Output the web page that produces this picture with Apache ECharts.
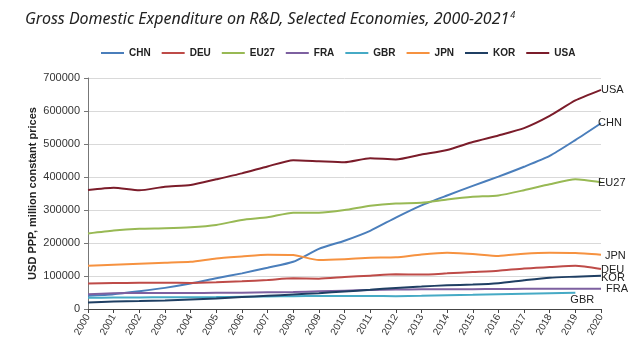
<!DOCTYPE html>
<html>
<head>
<meta charset="utf-8">
<script src="https://cdn.jsdelivr.net/npm/echarts@6/dist/echarts.min.js"></script>
<style>
html,body{margin:0;padding:0;background:#fff;}
#chart{width:637px;height:354px;}
</style>
</head>
<body>
<div id="chart"></div>
<script>
const years = ['2000','2001','2002','2003','2004','2005','2006','2007','2008','2009','2010',
    '2011','2012','2013','2014','2015','2016','2017','2018','2019','2020'];

const chn = [40000,45000,54000,64000,77000,93000,108000,125000,143000,182000,207000,
    237000,277000,314000,344000,373000,401000,431000,464000,512000,563000];
const deu = [77000,78500,79500,79500,79000,81000,84000,88000,93000,92000,97000,
    101000,105000,104500,108000,112000,116000,123000,127000,131000,121000];
const eu27 = [229000,238000,243000,244500,247500,254500,270000,278000,292000,292000,300000,
    313000,320000,322000,332000,340000,344000,360000,378000,393000,384000];
const fra = [45000,47500,48500,48500,48500,49000,49500,50500,51500,53500,55500,
    57500,59000,59500,59700,60000,60500,61000,61300,61500,61500];
const gbr = [34000,34500,35000,35500,35500,36000,37000,38000,39000,39500,39500,
    39500,39000,40000,41500,43000,45000,46500,48000,49400];
const jpn = [131000,134000,137000,140000,143000,153000,159000,164500,163600,148500,151000,
    155500,156500,165500,170600,166600,160600,167600,170600,169700,164500];
const kor = [20000,22500,24000,26000,29000,32000,36000,40000,44000,48000,53000,
    58000,64000,68000,72000,74000,78000,87000,95000,98000,101000];
const usa = [360600,367600,359600,370600,375700,393000,411000,432000,451000,448000,445000,
    457000,453000,468000,482000,506000,526000,548000,585000,632000,664000];

const names = ['CHN','DEU','EU27','FRA','GBR','JPN','KOR','USA'];
const values = [chn,deu,eu27,fra,gbr,jpn,kor,usa];
const colors = ['#4a7ebb','#be4b48','#98b954','#7d60a0','#46aac5','#f69240','#1f3f63','#7b1c2a'];
// end label offsets [x,y]
const labelOffsets = [[-4,0],[-1,1],[-4,1],[4,0],[-6,7],[3,1],[-1,2],[-1,0]];

const font = 'Liberation Sans, Arial, sans-serif';

const chart = echarts.init(document.getElementById('chart'));
chart.setOption({
    animation:false,
    color:colors,
    title:{
        text:'{t|Gross Domestic Expenditure on R&D, Selected Economies, 2000-2021}{s|4}',
        left:20,
        top:6,
        textStyle:{
            rich:{
                t:{fontSize:16,fontStyle:'italic',fontWeight:'normal',fontFamily:'Noto Sans',color:'#222'},
                s:{fontSize:9,fontStyle:'italic',fontWeight:'normal',fontFamily:'Noto Sans',color:'#222',verticalAlign:'top',padding:[0,0,8,1]}
            }
        }
    },
    legend:{
        top:43,
        left:96,
        icon:'rect',
        itemWidth:23,
        itemHeight:2,
        itemGap:11,
        textStyle:{fontSize:10,fontWeight:'bold',fontFamily:font,color:'#222'},
        data:names
    },
    grid:{
        left:88,
        right:36,
        top:78,
        bottom:45,
        containLabel:false
    },
    xAxis:{
        type:'category',
        boundaryGap:false,
        data:years,
        axisLine:{show:true,lineStyle:{color:'#444'}},
        axisTick:{show:true,length:4,lineStyle:{color:'#444'}},
        axisLabel:{
            rotate:60,
            fontSize:10,
            margin:6,
            color:'#333',
            fontFamily:font,
            interval:0
        },
        splitLine:{show:false}
    },
    yAxis:{
        type:'value',
        min:0,
        max:700000,
        interval:100000,
        name:'USD PPP, million constant prices',
        nameLocation:'middle',
        nameRotate:90,
        nameGap:50,
        nameMoveOverlap:false,
        nameTextStyle:{fontSize:11,fontWeight:'bold',fontFamily:font,color:'#222'},
        axisLine:{show:true,lineStyle:{color:'#777'}},
        axisTick:{show:true,length:4,lineStyle:{color:'#777'}},
        axisLabel:{
            fontSize:11,
            color:'#333',
            fontFamily:font,
            margin:8,
            formatter:function(v){return String(v);}
        },
        splitLine:{show:true,lineStyle:{color:'#d9d9d9'}}
    },
    series:names.map(function(n,i){
        return {
            name:n,
            type:'line',
            data:values[i],
            smooth:0.2,
            symbol:'none',
            lineStyle:{width:2},
            endLabel:{
                show:true,
                formatter:n,
                distance:1,
                offset:labelOffsets[i],
                fontSize:11,
                fontFamily:font,
                color:'#222'
            }
        };
    })
});
window.addEventListener('resize',function(){
    chart.resize();
});
</script>
</body>
</html>
